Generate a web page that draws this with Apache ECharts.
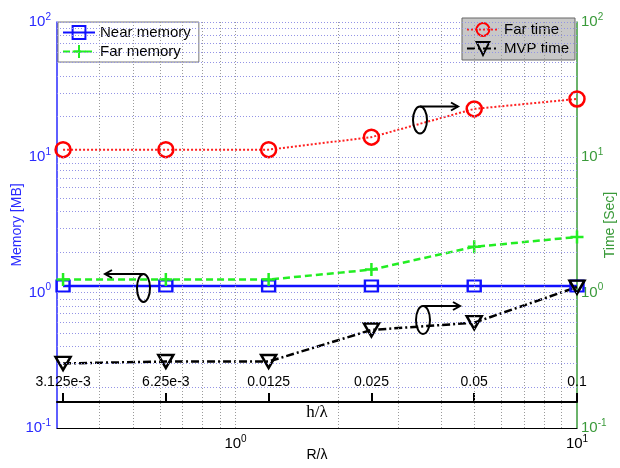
<!DOCTYPE html>
<html><head><meta charset="utf-8">
<script src="https://cdn.jsdelivr.net/npm/echarts@6/dist/echarts.min.js"></script>
<style>html,body{margin:0;padding:0;background:#fff}#c{width:620px;height:468px}</style>
</head><body><div id="c"></div>
<script>
// Data
var hOverLambda = ['3.125e-3', '6.25e-3', '0.0125', '0.025', '0.05', '0.1'];
var rOverLambda = [0.3125, 0.625, 1.25, 2.5, 5, 10];
var nearMemory = [1.12, 1.12, 1.12, 1.12, 1.12, 1.12];
var farMemory  = [1.25, 1.25, 1.25, 1.48, 2.18, 2.58];
var farTime    = [11.4, 11.4, 11.4, 14.1, 22.8, 27.0];
var mvpTime    = [0.30, 0.31, 0.31, 0.53, 0.60, 1.10];
var xMinorGrid = [0.4, 0.5, 0.6, 0.7, 0.8, 0.9, 1, 2, 3, 4, 5, 6, 7, 8, 9];
var yMinorGrid = [0.2,0.3,0.4,0.5,0.6,0.7,0.8,0.9,1,2,3,4,5,6,7,8,9,10,20,30,40,50,60,70,80,90,100];

function pairs(ys){ return rOverLambda.map(function(x,i){ return [x, ys[i]]; }); }
function pow10Label(v){
  var e = Math.round(Math.log10(v));
  return '{b|10}{s|' + e + '}';
}
function richFor(color){
  return { b:{fontSize:15, color:color, fontFamily:'Liberation Sans, Arial', lineHeight:20},
           s:{fontSize:10, color:color, fontFamily:'Liberation Sans, Arial', verticalAlign:'top', lineHeight:10, padding:[0,0,8,0]} };
}
var FONT = 'Liberation Sans, Arial, sans-serif';
var BLUE = '#2a2aff', GREEN = '#3a9a3a';

var chart = echarts.init(document.getElementById('c'), null, {renderer:'canvas'});
var option = {
  animation:false,
  backgroundColor:'#fff',
  textStyle:{fontFamily:FONT},
  grid:[
    {left:57, right:43, top:22, bottom:40, outerBoundsMode:'none', containLabel:false},
    {left:57, right:43, top:380, height:22, outerBoundsMode:'none', containLabel:false}
  ],
  legend:[
    {data:['Near memory','Far memory'], orient:'vertical', left:58, top:22,
     backgroundColor:'#fff', borderColor:'#777', borderWidth:1, borderRadius:0,
     padding:[3,8,3,4], itemGap:4, itemWidth:32, itemHeight:16,
     textStyle:{fontSize:15, color:'#000', fontFamily:FONT}},
    {data:['Far time','MVP time'], orient:'vertical', right:45, top:18,
     backgroundColor:'#c8c8c8', borderColor:'#666', borderWidth:1, borderRadius:0,
     padding:[4,6,4,4], itemGap:4, itemWidth:32, itemHeight:16,
     textStyle:{fontSize:15, color:'#000', fontFamily:FONT}}
  ],
  xAxis:[
    {type:'log', gridIndex:0, min:0.3, max:10, logBase:10,
     name:'R/λ', nameLocation:'middle', nameGap:20, nameMoveOverlap:false,
     nameTextStyle:{fontSize:14, color:'#000', fontFamily:FONT},
     axisLine:{show:true, lineStyle:{color:'#000', width:1}},
     axisTick:{show:false},
     splitLine:{show:false},
     axisLabel:{show:true, margin:6, showMinLabel:false, formatter:pow10Label, rich:richFor('#000')}},
    {type:'log', gridIndex:1, min:0.3, max:10, logBase:10, position:'bottom',
     name:'h/λ', nameLocation:'middle', nameGap:2, nameMoveOverlap:false,
     nameTextStyle:{fontSize:17, color:'#000', fontFamily:'Liberation Serif, Times New Roman, serif'},
     axisLine:{show:true, onZero:false, lineStyle:{color:'#000', width:2}},
     axisTick:{show:true, inside:true, length:9, customValues:rOverLambda, lineStyle:{color:'#000', width:2}},
     splitLine:{show:false},
     axisLabel:{show:true, inside:true, margin:13, customValues:rOverLambda, fontSize:14, color:'#000', fontFamily:FONT,
       formatter:function(v){
         var best=0, bd=1e9;
         rOverLambda.forEach(function(r,i){ var d=Math.abs(Math.log(r)-Math.log(v)); if(d<bd){bd=d;best=i;} });
         return hOverLambda[best];
       }}}
  ],
  yAxis:[
    {type:'log', gridIndex:0, min:0.1, max:100, logBase:10, position:'left',
     name:'Memory [MB]', nameLocation:'middle', nameGap:33, nameMoveOverlap:false,
     nameTextStyle:{fontSize:14, color:BLUE, fontFamily:FONT},
     axisLine:{show:true, lineStyle:{color:BLUE, width:1.5}},
     axisTick:{show:false}, splitLine:{show:false},
     axisLabel:{margin:6, formatter:pow10Label, rich:richFor(BLUE)}},
    {type:'log', gridIndex:0, min:0.1, max:100, logBase:10, position:'right',
     name:'Time [Sec]', nameLocation:'middle', nameGap:26, nameMoveOverlap:false,
     nameTextStyle:{fontSize:14, color:GREEN, fontFamily:FONT},
     axisLine:{show:true, lineStyle:{color:GREEN, width:1.5}},
     axisTick:{show:false}, splitLine:{show:false},
     axisLabel:{margin:4, formatter:pow10Label, rich:richFor(GREEN)}},
    {type:'value', gridIndex:1, show:false, min:0, max:1}
  ],
  series:[
    {name:'_grid', type:'line', xAxisIndex:0, yAxisIndex:0, data:[], z:0, silent:true,
     markLine:{silent:true, symbol:['none','none'], label:{show:false}, animation:false,
       data: xMinorGrid.map(function(v){ return {xAxis:v, lineStyle:{color:'#9a9a9a', type:[1,2], width:1}}; })
         .concat(yMinorGrid.map(function(v){ return {yAxis:v, lineStyle:{color:'#9494e6', type:[1,2], width:1}}; }))}},
    {name:'Near memory', type:'line', xAxisIndex:0, yAxisIndex:0, data:pairs(nearMemory), z:3,
     symbol:'rect', symbolSize:[13,11], showAllSymbol:true,
     lineStyle:{color:'#1010ff', width:2.5, type:'solid'},
     itemStyle:{color:'rgba(255,255,255,0)', borderColor:'#1010ff', borderWidth:2.2}},
    {name:'Far memory', type:'line', xAxisIndex:0, yAxisIndex:0, data:pairs(farMemory), z:3,
     symbol:'path://M0,6L12,6M6,0L6,12', symbolSize:13,
     lineStyle:{color:'#22ee22', width:2.5, type:[7,4]},
     itemStyle:{color:'rgba(255,255,255,0)', borderColor:'#22ee22', borderWidth:2.5}},
    {name:'Far time', type:'line', xAxisIndex:0, yAxisIndex:1, data:pairs(farTime), z:3,
     symbol:'circle', symbolSize:15,
     lineStyle:{color:'#ff2020', width:2, type:[2,2]},
     itemStyle:{color:'rgba(255,255,255,0)', borderColor:'#ff0000', borderWidth:2.5}},
    {name:'MVP time', type:'line', xAxisIndex:0, yAxisIndex:1, data:pairs(mvpTime), z:3,
     symbol:'path://M0,0L12,0L6,10Z', symbolSize:[15,13],
     lineStyle:{color:'#000', width:2.5, type:[8,3,2,3]},
     itemStyle:{color:'rgba(255,255,255,0)', borderColor:'#000', borderWidth:2.5}}
  ]
};
chart.setOption(option);

function arrowGroup(cx, cy, rx, ry, x2, dir){
  var y = cy - ry;
  var tip = x2;
  return [
    {type:'ellipse', shape:{cx:cx, cy:cy, rx:rx, ry:ry}, style:{fill:null, stroke:'#000', lineWidth:2}, z:10},
    {type:'line', shape:{x1:cx, y1:y, x2:tip, y2:y}, style:{stroke:'#000', lineWidth:2}, z:10},
    {type:'polyline', shape:{points:[[tip-7*dir, y-4],[tip, y],[tip-7*dir, y+4]]}, style:{stroke:'#000', lineWidth:2, fill:null}, z:10}
  ];
}
chart.setOption({graphic:{elements:
  arrowGroup(420,120,7,13.5,458,1)
  .concat(arrowGroup(143.5,288,6.5,14,105,-1))
  .concat(arrowGroup(423,320,7,14,460,1))
}});
</script></body></html>
